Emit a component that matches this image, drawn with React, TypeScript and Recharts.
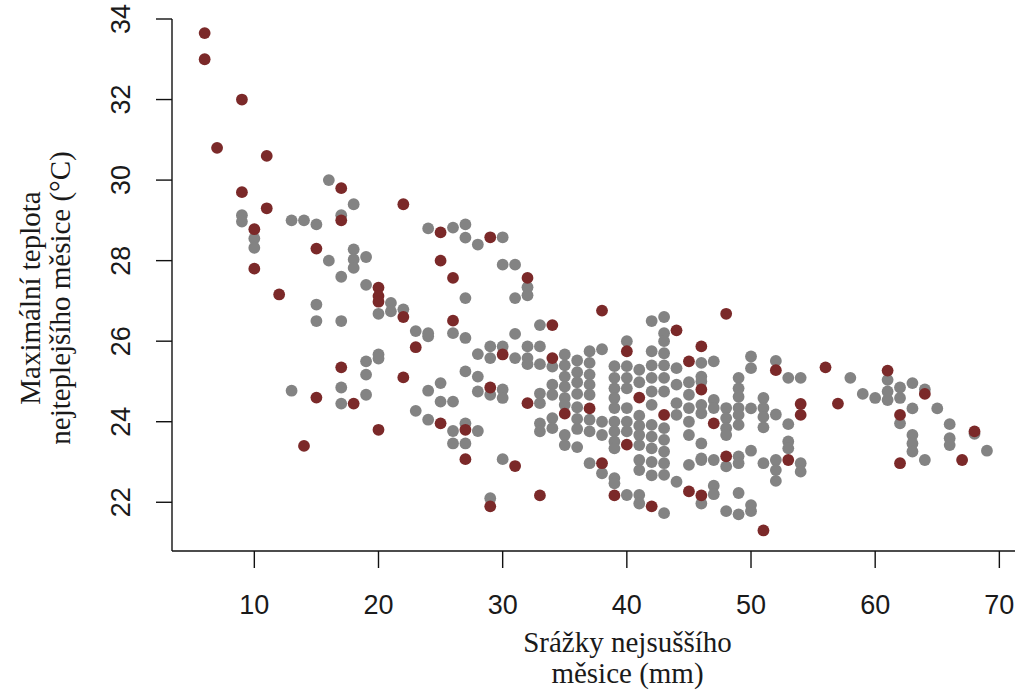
import React from 'react';
import { ScatterChart, Scatter, XAxis, YAxis } from 'recharts';

// Gray points: precipitation of driest month (mm) and max temperature of warmest month (°C)
const grayPrecip = [
  16, 18, 9, 9, 13, 14, 15, 17, 10, 10, 24, 16, 18, 18, 19, 18, 17, 19, 20, 21, 21, 22, 23, 24,
  15, 15, 17, 20, 20, 19, 19, 24, 13, 17, 17, 19, 23, 24,
  26, 27, 27, 28, 30, 30, 31, 32, 32, 27, 31, 26, 27, 24, 31, 33,
  28, 29, 29, 30, 31, 32, 32, 32, 33, 33, 34, 35, 27, 28, 28, 29, 30, 30, 25, 25, 26,
  33, 33, 33, 33, 34, 34, 34, 34, 35, 35, 35, 35, 35, 35, 26, 26, 27, 27, 28, 30, 29,
  42, 43, 43, 43, 43, 46, 46, 46, 40, 42, 35,
  36, 36, 36, 36, 36, 36, 36, 36, 37, 37, 37, 37, 37, 37, 37, 38, 38, 38,
  39, 39, 39, 39, 39, 39, 39, 39, 39, 40, 40, 40, 40, 40, 40,
  41, 41, 41, 41, 41, 41, 41, 41, 42, 42, 42, 42, 42, 42, 42, 42, 42,
  43, 43, 43, 43, 43, 43, 43, 43, 44, 44, 44, 44, 44, 45, 45, 45, 45, 45, 45, 46, 46, 46,
  37, 38, 39, 39, 40, 41, 41, 43, 46,
  47, 50, 50, 52, 53, 54, 58, 61, 61, 61, 59, 60, 62, 62, 63, 63, 64, 65, 62, 66, 66, 66, 68, 69,
  64, 63, 63, 63, 46, 47, 47, 48, 48, 48, 48, 49, 49, 49, 49, 49, 49, 50, 51, 51, 51, 51, 52,
  53, 53, 53, 52, 52, 52, 54, 54, 51, 50, 49, 49, 48, 46, 47, 47, 47, 49, 48, 49, 50, 50,
];
const grayTemp = [
  30.0, 29.4, 29.13, 28.97, 29.0, 29.0, 28.9, 29.13, 28.55, 28.32, 28.8, 28.0, 28.28, 28.03, 28.09, 27.82, 27.6, 27.4, 26.68, 26.95, 26.74, 26.79, 26.25, 26.12,
  26.91, 26.5, 26.5, 25.67, 25.57, 25.5, 25.17, 24.77, 24.77, 24.85, 24.45, 24.67, 24.27, 24.05,
  28.82, 28.9, 28.57, 28.4, 28.58, 27.9, 27.9, 27.34, 27.14, 27.07, 27.07, 26.2, 26.08, 26.2, 26.18, 26.4,
  25.68, 25.87, 25.58, 25.87, 25.58, 25.87, 25.58, 25.43, 25.87, 25.43, 25.37, 25.67, 25.25, 25.12, 24.75, 24.67, 24.8, 24.59, 24.96, 24.5, 24.5,
  24.7, 24.46, 23.96, 23.76, 24.92, 24.67, 24.09, 23.84, 25.12, 24.87, 24.59, 24.42, 23.67, 23.42, 23.77, 23.46, 23.96, 23.46, 23.77, 23.07, 22.1,
  26.5, 26.6, 26.2, 26.0, 25.7, 25.46, 25.12, 25.0, 26.0, 25.75, 25.4,
  25.52, 25.23, 24.98, 24.69, 24.36, 24.07, 23.82, 23.37, 25.75, 25.46, 25.17, 24.92, 24.67, 24.05, 23.76, 25.8, 24.0, 23.67,
  25.38, 25.09, 24.83, 24.59, 24.34, 24.0, 23.76, 23.51, 23.34, 25.38, 25.09, 24.83, 24.34, 24.0, 23.76,
  25.29, 24.98, 24.15, 23.9, 23.67, 23.42, 23.05, 22.8, 25.4, 25.09, 24.75, 24.42, 23.92, 23.63, 23.34, 23.0, 22.67,
  25.4, 25.09, 24.75, 23.84, 23.55, 23.26, 22.97, 22.68, 25.33, 24.92, 24.46, 24.17, 22.51, 24.98, 24.67, 24.34, 24.0, 23.67, 22.93, 24.21, 23.46, 23.09,
  22.97, 22.72, 22.6, 22.47, 22.18, 22.18, 21.97, 21.73, 21.97,
  25.5, 25.62, 25.33, 25.51, 25.09, 25.09, 25.09, 25.04, 24.75, 24.54, 24.69, 24.59, 24.85, 24.59, 24.96, 24.33, 24.8, 24.33, 23.96, 23.94, 23.59, 23.42, 23.7, 23.28,
  23.05, 23.67, 23.46, 23.26, 24.42, 24.54, 24.34, 24.34, 24.09, 23.84, 23.67, 25.09, 24.83, 24.62, 24.34, 24.17, 23.92, 24.33, 24.59, 24.34, 24.12, 23.86, 24.18,
  23.94, 23.51, 23.34, 23.05, 22.8, 22.53, 22.97, 22.76, 22.97, 23.28, 23.14, 22.97, 22.89, 23.05, 23.05, 22.41, 22.2, 22.23, 21.78, 21.7, 21.78, 21.93,
];

// Dark red points
const redPrecip = [
  6, 6, 9, 7, 11, 17, 9, 22, 11, 17, 10, 15, 10, 12, 20, 20, 20, 22, 23, 17, 22, 15, 18, 20, 14,
  25, 29, 25, 26, 32, 26, 34, 30, 34, 29, 32, 35, 25, 27, 27, 31, 33, 29,
  38, 44, 46, 45, 46, 40, 37, 41, 43, 40, 38, 39, 42, 45, 46,
  48, 52, 56, 61, 64, 62, 68, 67, 62, 47, 54, 54, 53, 48, 51, 57,
];
const redTemp = [
  33.65, 33.0, 32.0, 30.8, 30.6, 29.8, 29.7, 29.4, 29.3, 29.0, 28.78, 28.3, 27.8, 27.16, 27.33, 27.12, 26.98, 26.6, 25.85, 25.35, 25.1, 24.6, 24.45, 23.8, 23.4,
  28.7, 28.58, 28.0, 27.57, 27.57, 26.51, 26.4, 25.67, 25.58, 24.85, 24.46, 24.2, 23.96, 23.8, 23.07, 22.9, 22.17, 21.9,
  26.76, 26.27, 25.87, 25.5, 24.8, 25.75, 24.33, 24.6, 24.17, 23.43, 22.97, 22.17, 21.9, 22.27, 22.17,
  26.68, 25.28, 25.35, 25.27, 24.69, 24.17, 23.76, 23.05, 22.97, 23.96, 24.44, 24.17, 23.05, 23.14, 21.3, 24.45,
];

const xTicks = [10, 20, 30, 40, 50, 60, 70];
const yTicks = [22, 24, 26, 28, 30, 32, 34];
const xTitleLines = ['Srážky nejsuššího', 'měsice (mm)'];
const yTitleLines = ['Maximální teplota', 'nejteplejšího měsice (°C)'];

const grayData = grayPrecip.map((x, i) => ({ x, y: grayTemp[i] }));
const redData = redPrecip.map((x, i) => ({ x, y: redTemp[i] }));

const GRAY = '#838383';
const RED = '#7b2929';
const SANS = '"Liberation Sans", Arial, sans-serif';
const SERIF = '"Liberation Serif", "Times New Roman", serif';

const makeDot = (fill: string) => (props: any) => (
  <circle cx={props.cx} cy={props.cy} r={5.9} fill={fill} />
);

const XTick = (props: any) => {
  const { x, y, payload } = props;
  return (
    <text x={x} y={y + 46} textAnchor="middle" fontSize={27} fontFamily={SANS} fill="#1a1a1a">
      {payload.value}
    </text>
  );
};

const YTick = (props: any) => {
  const { x, y, payload } = props;
  const bx = x - 26;
  return (
    <text
      x={bx}
      y={y}
      transform={`rotate(-90 ${bx} ${y})`}
      textAnchor="middle"
      fontSize={27}
      fontFamily={SANS}
      fill="#1a1a1a"
    >
      {payload.value}
    </text>
  );
};

const XTitle = (props: any) => {
  const vb = props.viewBox || { x: 172, y: 551, width: 843, height: 146 };
  const cx = vb.x + vb.width / 2 + 34;
  return (
    <g>
      {xTitleLines.map((line, i) => (
        <text
          key={i}
          x={cx}
          y={vb.y + 101 + i * 31}
          textAnchor="middle"
          fontSize={29}
          fontFamily={SERIF}
          fill="#1a1a1a"
        >
          {line}
        </text>
      ))}
    </g>
  );
};

const YTitle = (props: any) => {
  const vb = props.viewBox || { x: 0, y: 19, width: 172, height: 532 };
  const cy = vb.y + vb.height / 2 + 13;
  return (
    <g>
      {yTitleLines.map((line, i) => {
        const bx = vb.x + 40 + i * 30;
        return (
          <text
            key={i}
            x={bx}
            y={cy}
            transform={`rotate(-90 ${bx} ${cy})`}
            textAnchor="middle"
            fontSize={29}
            fontFamily={SERIF}
            fill="#1a1a1a"
          >
            {line}
          </text>
        );
      })}
    </g>
  );
};

export default function App() {
  return (
    <div style={{ position: 'absolute', left: 0, top: 0, width: 1022, height: 697, background: '#fff' }}>
      <ScatterChart width={1022} height={697} margin={{ top: 19, right: 7, bottom: 0, left: 0 }}>
        <XAxis
          type="number"
          dataKey="x"
          domain={[3.37, 71.26]}
          ticks={xTicks}
          allowDataOverflow
          height={146}
          tickSize={17}
          tickMargin={0}
          tick={XTick}
          axisLine={{ stroke: '#111', strokeWidth: 1.4 }}
          tickLine={{ stroke: '#111', strokeWidth: 1.4 }}
          label={XTitle}
          interval={0}
        />
        <YAxis
          type="number"
          dataKey="y"
          domain={[20.79, 34.0]}
          ticks={yTicks}
          allowDataOverflow
          width={172}
          tickSize={16}
          tickMargin={0}
          tick={YTick}
          axisLine={{ stroke: '#111', strokeWidth: 1.4 }}
          tickLine={{ stroke: '#111', strokeWidth: 1.4 }}
          label={YTitle}
          interval={0}
        />
        <Scatter data={grayData} fill={GRAY} shape={makeDot(GRAY)} isAnimationActive={false} />
        <Scatter data={redData} fill={RED} shape={makeDot(RED)} isAnimationActive={false} />
      </ScatterChart>
    </div>
  );
}
